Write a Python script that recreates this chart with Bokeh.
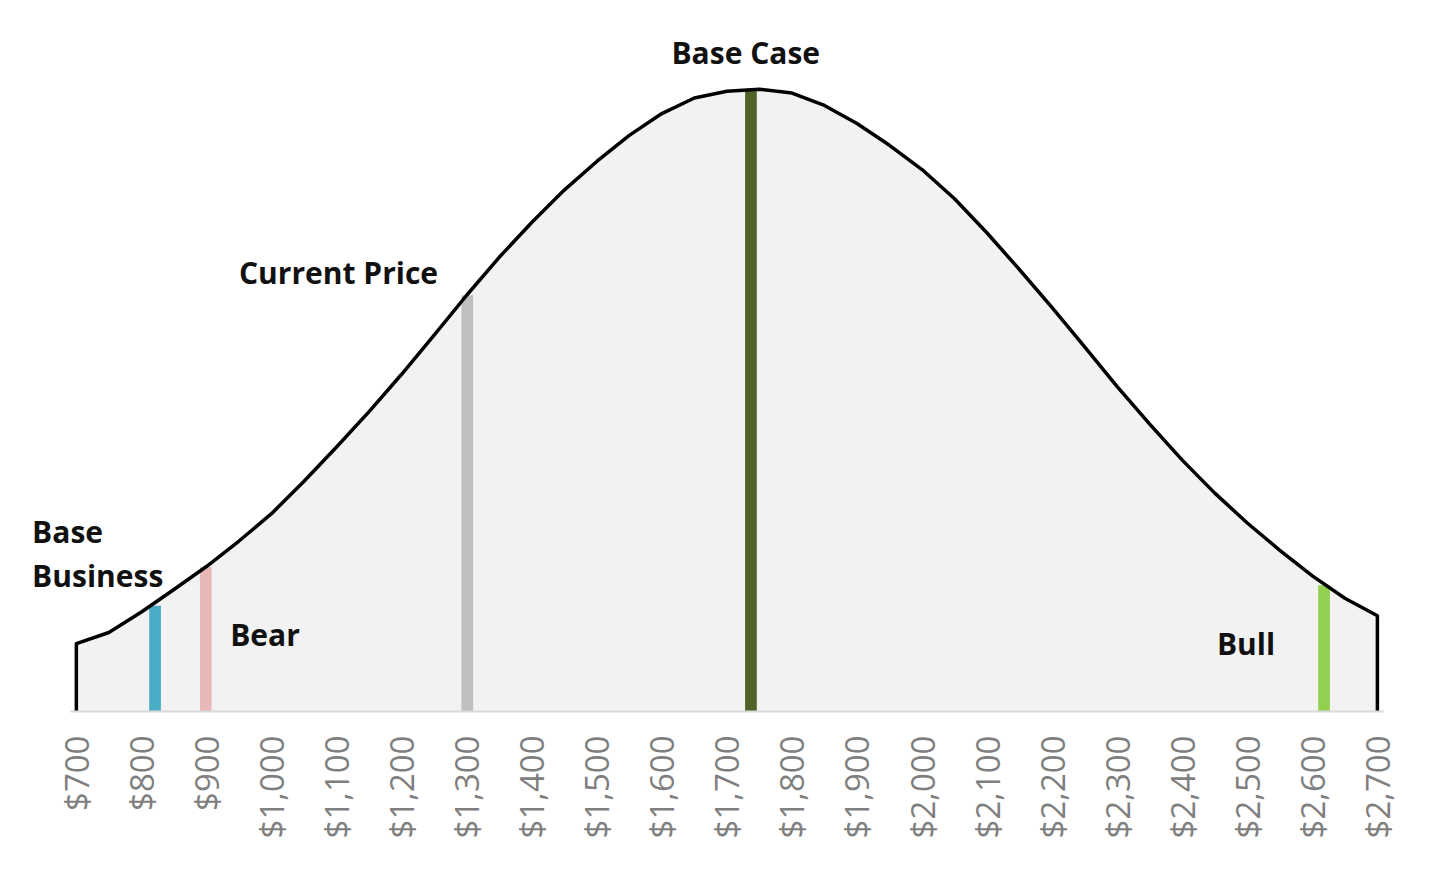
import math
from bokeh.plotting import figure
from bokeh.models import Range1d, FixedTicker, Label
from bokeh.embed import file_html
from bokeh.resources import INLINE

# --- data ---
price = [700, 750, 800, 850, 900, 950, 1000, 1050, 1100, 1150, 1200, 1250, 1300,
         1350, 1400, 1450, 1500, 1550, 1600, 1650, 1700, 1750, 1800, 1850, 1900,
         1950, 2000, 2050, 2100, 2150, 2200, 2250, 2300, 2350, 2400, 2450, 2500,
         2550, 2600, 2650, 2700]
density = [10.9, 12.7, 16.0, 19.6, 23.3, 27.4, 31.8, 37.0, 42.5, 48.2, 54.2, 60.5, 66.9,
           73.0, 78.6, 83.8, 88.4, 92.6, 96.1, 98.6, 99.7, 100.0, 99.4, 97.4, 94.5,
           91.0, 87.1, 82.4, 76.9, 71.0, 64.9, 58.6, 52.2, 46.2, 40.4, 35.1, 30.3,
           25.9, 21.8, 18.2, 15.4]

scenario_names = ["Base Business", "Bear", "Current Price", "Base Case", "Bull"]
scenario_price = [821, 899, 1301, 1737, 2618]
scenario_height = [17.0, 23.2, 66.9, 100.0, 20.3]
scenario_colors = ["#4bacc6", "#e6b9b8", "#bfbfbf", "#4f6228", "#92d050"]

tick_values = list(range(700, 2701, 100))
tick_labels = ["$700", "$800", "$900", "$1,000", "$1,100", "$1,200", "$1,300", "$1,400",
               "$1,500", "$1,600", "$1,700", "$1,800", "$1,900", "$2,000", "$2,100",
               "$2,200", "$2,300", "$2,400", "$2,500", "$2,600", "$2,700"]

# label anchors (x, y, text, align)
label_specs = [
    (1729, 105.9, "Base Case", "center"),
    (1103, 70.6, "Current Price", "center"),
    (632, 29.0, "Base", "left"),
    (632, 21.9, "Business", "left"),
    (990, 12.4, "Bear", "center"),
    (2498, 10.9, "Bull", "center"),
]

p = figure(frame_width=1424, frame_height=695,
           x_range=Range1d(608, 2797), y_range=Range1d(0, 111.7),
           output_backend="svg", toolbar_location=None,
           min_border_left=16, min_border_right=0, min_border_top=16, min_border_bottom=10)

p.yaxis.visible = False
p.grid.visible = False
p.outline_line_color = None

# filled distribution
p.varea(x=price, y1=[0] * len(price), y2=density, fill_color="#f2f2f2")

# scenario bars
p.vbar(x=scenario_price, top=scenario_height, width=18, bottom=0,
       fill_color=scenario_colors, line_color=None)

# outline of the curve, including vertical edges to the baseline
outline_x = [price[0]] + price + [price[-1]]
outline_y = [0] + density + [0]
p.line(outline_x, outline_y, line_color="black", line_width=3.5, line_join="round")

ax = p.xaxis[0]
ax.ticker = FixedTicker(ticks=tick_values)
ax.major_label_overrides = {v: t for v, t in zip(tick_values, tick_labels)}
ax.major_label_orientation = math.pi / 2
ax.major_label_text_font = "Open Sans"
ax.major_label_text_font_size = "33px"
ax.major_label_text_color = "#7f7f7f"
ax.major_label_standoff = 24
ax.major_tick_line_color = None
ax.minor_tick_line_color = None
ax.major_tick_out = 0
ax.axis_line_color = "#d9d9d9"
ax.axis_line_width = 2
ax.bounds = (691, 2710)

for x, y, t, align in label_specs:
    p.add_layout(Label(x=x, y=y, text=t, text_align=align, text_baseline="middle",
                       text_font="Open Sans", text_font_style="bold",
                       text_font_size="30px", text_color="#111111"))

open("out.html", "w").write(file_html(p, INLINE))
